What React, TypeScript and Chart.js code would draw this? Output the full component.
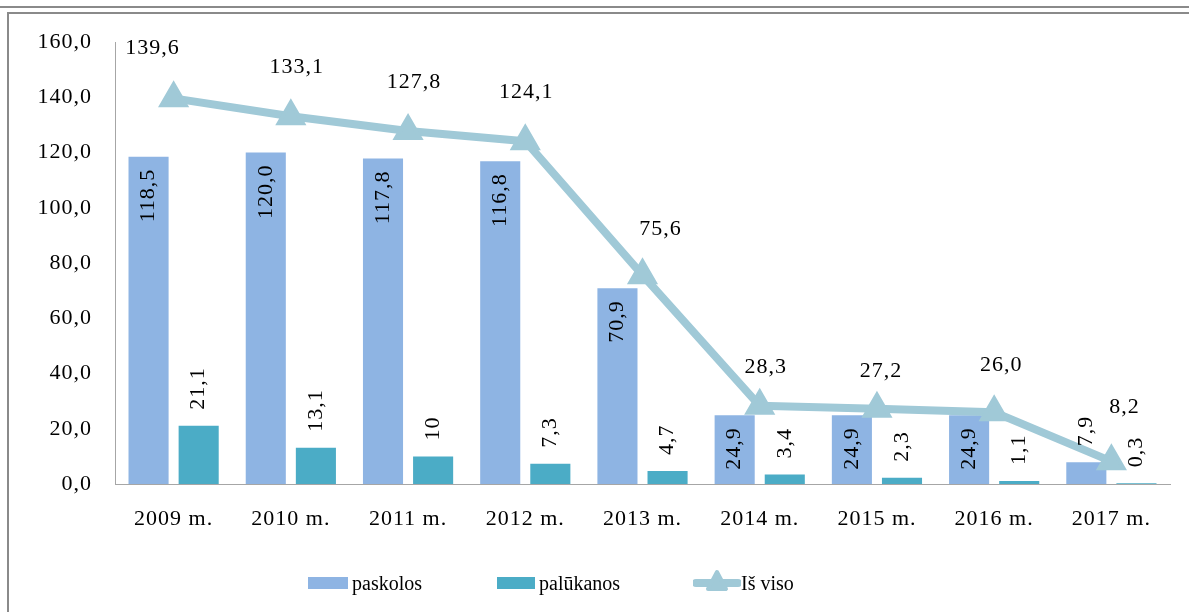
import React, { useEffect, useRef } from "react";
import { Chart, registerables } from "chart.js";

Chart.register(...registerables);

const categories = ["2009 m.", "2010 m.", "2011 m.", "2012 m.", "2013 m.", "2014 m.", "2015 m.", "2016 m.", "2017 m."];
const paskolos = [118.5, 120.0, 117.8, 116.8, 70.9, 24.9, 24.9, 24.9, 7.9];
const palukanos = [21.1, 13.1, 10, 7.3, 4.7, 3.4, 2.3, 1.1, 0.3];
const isViso = [139.6, 133.1, 127.8, 124.1, 75.6, 28.3, 27.2, 26.0, 8.2];

const C_PASK = "#8EB4E3";
const C_PAL = "#4BACC6";
const C_LINE = "#A0C9D7";
const FONT = "'Liberation Serif', 'Times New Roman', serif";

// label offsets for the line value labels (style only)
const lineLabelOffsets: [number, number][] = [
  [-21, -50], [6, -49], [6, -49], [1, -49], [18, -46], [6, -39], [4, -38], [7, -47], [13, -54],
];

const fmt1 = (v: number) => v.toFixed(1).replace(".", ",");
const fmtRaw = (v: number) => String(v).replace(".", ",");

const spacingPlugin = {
  id: "letterSpacing",
  beforeDraw(chart: any) {
    try {
      chart.ctx.letterSpacing = "1px";
    } catch (e) {}
  },
};

const labelsPlugin = {
  id: "valueLabels",
  afterDatasetsDraw(chart: any) {
    const ctx = chart.ctx;
    ctx.save();
    try {
      ctx.letterSpacing = "1px";
    } catch (e) {}
    ctx.fillStyle = "#000";
    ctx.font = `22px ${FONT}`;
    ctx.textBaseline = "middle";
    [0, 1].forEach((di) => {
      const meta = chart.getDatasetMeta(di);
      const data = chart.data.datasets[di].data as number[];
      meta.data.forEach((bar: any, i: number) => {
        const v = data[i];
        const text = di === 0 ? fmt1(v) : fmtRaw(v);
        const h = bar.base - bar.y;
        ctx.save();
        if (di === 0 && h > 60) {
          ctx.translate(bar.x, bar.y + 12);
          ctx.rotate(-Math.PI / 2);
          ctx.textAlign = "right";
        } else {
          ctx.translate(bar.x, bar.y - 16);
          ctx.rotate(-Math.PI / 2);
          ctx.textAlign = "left";
        }
        ctx.fillText(text, 0, 0);
        ctx.restore();
      });
    });
    const lm = chart.getDatasetMeta(2);
    const ld = chart.data.datasets[2].data as number[];
    ctx.textAlign = "center";
    lm.data.forEach((pt: any, i: number) => {
      const off = lineLabelOffsets[i] || [0, -48];
      ctx.fillText(fmt1(ld[i]), pt.x + off[0], pt.y + off[1]);
    });
    ctx.restore();
  },
};

export default function App() {
  const ref = useRef<HTMLCanvasElement>(null);
  useEffect(() => {
    if (!ref.current) return;
    const chart = new Chart(ref.current, {
      type: "bar",
      data: {
        labels: categories,
        datasets: [
          {
            type: "bar",
            label: "paskolos",
            data: paskolos,
            backgroundColor: C_PASK,
            categoryPercentage: 0.855,
            barPercentage: 0.8,
            order: 2,
          },
          {
            type: "bar",
            label: "palūkanos",
            data: palukanos,
            backgroundColor: C_PAL,
            categoryPercentage: 0.855,
            barPercentage: 0.8,
            order: 2,
          },
          {
            type: "line",
            label: "Iš viso",
            data: isViso,
            borderColor: C_LINE,
            backgroundColor: C_LINE,
            borderWidth: 8,
            pointStyle: "triangle",
            pointRadius: 14,
            pointBorderWidth: 4,
            pointBorderColor: C_LINE,
            pointBackgroundColor: C_LINE,
            borderJoinStyle: "round",
            order: 0,
          } as any,
        ],
      },
      options: {
        animation: false,
        responsive: false,
        maintainAspectRatio: false,
        layout: { padding: { left: 0, right: 19, top: 42, bottom: 0 } },
        plugins: {
          legend: { display: false },
          tooltip: { enabled: false },
        },
        scales: {
          x: {
            grid: { display: false, drawTicks: false },
            border: { display: true, color: "#A6A6A6", width: 1 },
            ticks: { color: "#000", font: { family: FONT, size: 22 }, padding: 22, maxRotation: 0 },
            afterFit(scale: any) {
              scale.height = 128;
            },
          },
          y: {
            min: 0,
            max: 160,
            grid: { display: false, drawTicks: false },
            border: { display: true, color: "#A6A6A6", width: 1 },
            ticks: {
              stepSize: 20,
              color: "#000",
              font: { family: FONT, size: 22 },
              padding: 23,
              callback: (v: any) => fmt1(Number(v)),
            },
            afterFit(scale: any) {
              scale.width = 115;
            },
          },
        },
      },
      plugins: [spacingPlugin, labelsPlugin],
    });
    return () => chart.destroy();
  }, []);

  const legendText: React.CSSProperties = {
    position: "absolute",
    fontFamily: FONT,
    fontSize: 20,
    color: "#000",
    lineHeight: "20px",
    top: 573,
  };

  return (
    <div style={{ position: "fixed", left: 0, top: 0, width: 1189, height: 612, background: "#fff", overflow: "hidden" }}>
      <div style={{ position: "absolute", left: 0, top: 6, width: 1189, height: 2, background: "#8A8A8A" }} />
      <div
        style={{
          position: "absolute",
          left: 7,
          top: 12,
          width: 1200,
          height: 640,
          border: "2px solid #8A8A8A",
          boxSizing: "border-box",
        }}
      />
      <canvas ref={ref} width={1189} height={612} style={{ position: "absolute", left: 0, top: 0, width: 1189, height: 612 }} />
      <div style={{ position: "absolute", left: 308, top: 577, width: 40, height: 12, background: C_PASK }} />
      <div style={{ ...legendText, left: 352 }}>paskolos</div>
      <div style={{ position: "absolute", left: 497, top: 577, width: 38, height: 12, background: C_PAL }} />
      <div style={{ ...legendText, left: 539 }}>palūkanos</div>
      <svg style={{ position: "absolute", left: 693, top: 568 }} width={48} height={30}>
        <line x1={3} y1={15} x2={45} y2={15} stroke={C_LINE} strokeWidth={8} strokeLinecap="round" />
        <polygon points="24,4 33,21 15,21" fill={C_LINE} stroke={C_LINE} strokeWidth={4} strokeLinejoin="round" />
      </svg>
      <div style={{ ...legendText, left: 741 }}>Iš viso</div>
    </div>
  );
}
